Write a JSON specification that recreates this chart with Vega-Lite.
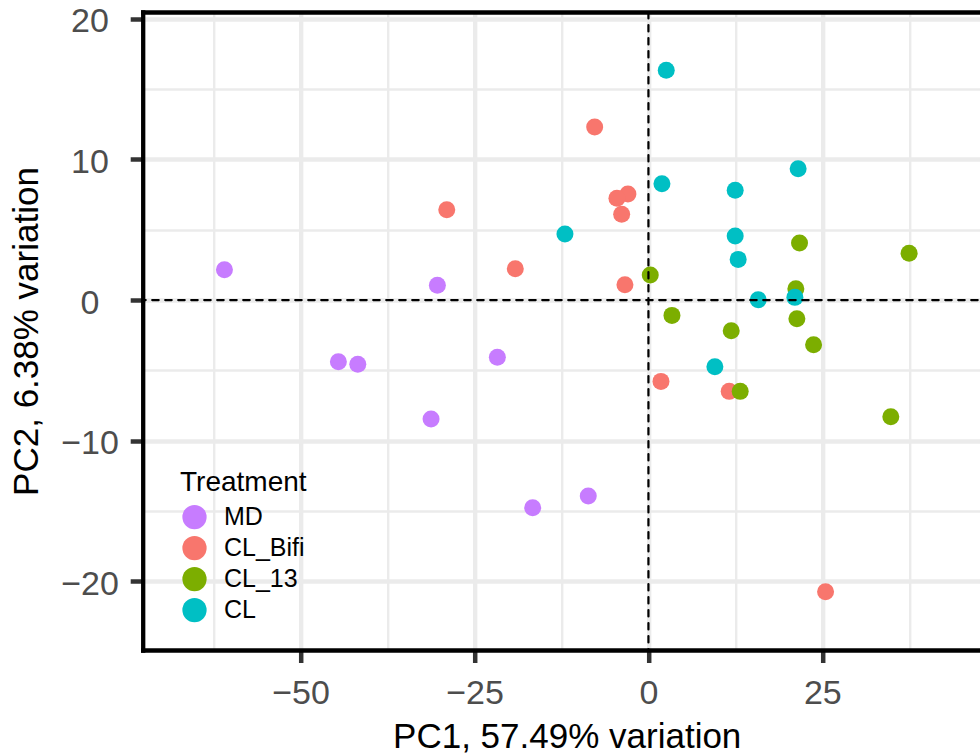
{
  "$schema": "https://vega.github.io/schema/vega-lite/v6.json",
  "autosize": {"type": "none"},
  "padding": {"left": 142.7, "top": 12, "right": -10.7, "bottom": 105},
  "width": 848,
  "height": 638,
  "config": {
    "font": "Liberation Sans",
    "view": {"stroke": null},
    "axis": {
      "labelFont": "Liberation Sans",
      "titleFont": "Liberation Sans",
      "labelColor": "#4D4D4D",
      "labelFontSize": 34,
      "titleFontSize": 35,
      "titleFontWeight": "normal",
      "titleColor": "#000000",
      "tickColor": "#333333",
      "tickSize": 12.5,
      "domainColor": "#000000",
      "domainWidth": 4.3,
      "domainCap": "square",
      "gridColor": "#EBEBEB",
      "labelFlush": false,
      "labelOverlap": false
    },
    "legend": {
      "labelFont": "Liberation Sans",
      "titleFont": "Liberation Sans"
    }
  },
  "resolve": {"axis": {"x": "independent", "y": "independent"}},
  "layer": [
    {
      "data": {
        "values": [
          {"PC1": -60.95, "PC2": 2.16, "Treatment": "MD"},
          {"PC1": -30.34, "PC2": 1.05, "Treatment": "MD"},
          {"PC1": -44.57, "PC2": -4.38, "Treatment": "MD"},
          {"PC1": -41.78, "PC2": -4.57, "Treatment": "MD"},
          {"PC1": -21.72, "PC2": -4.07, "Treatment": "MD"},
          {"PC1": -31.25, "PC2": -8.46, "Treatment": "MD"},
          {"PC1": -16.64, "PC2": -14.76, "Treatment": "MD"},
          {"PC1": -8.65, "PC2": -13.93, "Treatment": "MD"},
          {"PC1": -28.99, "PC2": 6.42, "Treatment": "CL_Bifi"},
          {"PC1": -19.14, "PC2": 2.22, "Treatment": "CL_Bifi"},
          {"PC1": -7.73, "PC2": 12.3, "Treatment": "CL_Bifi"},
          {"PC1": -2.95, "PC2": 7.53, "Treatment": "CL_Bifi"},
          {"PC1": -4.53, "PC2": 7.23, "Treatment": "CL_Bifi"},
          {"PC1": -3.85, "PC2": 6.09, "Treatment": "CL_Bifi"},
          {"PC1": -3.38, "PC2": 1.09, "Treatment": "CL_Bifi"},
          {"PC1": 1.8, "PC2": -5.78, "Treatment": "CL_Bifi"},
          {"PC1": 11.61, "PC2": -6.49, "Treatment": "CL_Bifi"},
          {"PC1": 25.46, "PC2": -20.73, "Treatment": "CL_Bifi"},
          {"PC1": 21.72, "PC2": 4.05, "Treatment": "CL_13"},
          {"PC1": 37.47, "PC2": 3.32, "Treatment": "CL_13"},
          {"PC1": 0.26, "PC2": 1.78, "Treatment": "CL_13"},
          {"PC1": 21.19, "PC2": 0.8, "Treatment": "CL_13"},
          {"PC1": 3.38, "PC2": -1.09, "Treatment": "CL_13"},
          {"PC1": 21.34, "PC2": -1.33, "Treatment": "CL_13"},
          {"PC1": 11.9, "PC2": -2.18, "Treatment": "CL_13"},
          {"PC1": 23.74, "PC2": -3.18, "Treatment": "CL_13"},
          {"PC1": 13.19, "PC2": -6.49, "Treatment": "CL_13"},
          {"PC1": 34.84, "PC2": -8.29, "Treatment": "CL_13"},
          {"PC1": 2.56, "PC2": 16.33, "Treatment": "CL"},
          {"PC1": 21.52, "PC2": 9.33, "Treatment": "CL"},
          {"PC1": 1.94, "PC2": 8.27, "Treatment": "CL"},
          {"PC1": 12.47, "PC2": 7.8, "Treatment": "CL"},
          {"PC1": -12.0, "PC2": 4.69, "Treatment": "CL"},
          {"PC1": 12.47, "PC2": 4.55, "Treatment": "CL"},
          {"PC1": 12.9, "PC2": 2.89, "Treatment": "CL"},
          {"PC1": 15.78, "PC2": 0.02, "Treatment": "CL"},
          {"PC1": 21.05, "PC2": 0.19, "Treatment": "CL"},
          {"PC1": 9.55, "PC2": -4.74, "Treatment": "CL"}
        ]
      },
      "mark": {"type": "point", "filled": true, "size": 289, "opacity": 1, "strokeWidth": 0},
      "encoding": {
        "x": {
          "field": "PC1",
          "type": "quantitative",
          "scale": {"domain": [-72.7, 49.2], "nice": false, "zero": false},
          "axis": {
            "title": "PC1, 57.49% variation",
            "values": [-62.5, -50, -37.5, -25, -12.5, 0, 12.5, 25, 37.5, 50],
            "grid": true,
            "gridWidth": {"condition": {"test": "datum.value % 25 === 0", "value": 4.3}, "value": 2.4},
            "tickWidth": {"condition": {"test": "datum.value % 25 === 0", "value": 4.5}, "value": 0},
            "labelExpr": "datum.value % 25 === 0 ? datum.label : ''",
            "labelPadding": 14.3,
            "titlePadding": 8.3,
            "domain": true,
            "zindex": 0
          }
        },
        "y": {
          "field": "PC2",
          "type": "quantitative",
          "scale": {"domain": [-24.87, 20.47], "nice": false, "zero": false},
          "axis": {
            "title": "PC2, 6.38% variation",
            "values": [-20, -15, -10, -5, 0, 5, 10, 15, 20],
            "grid": true,
            "gridWidth": {"condition": {"test": "datum.value % 10 === 0", "value": 4.3}, "value": 2.4},
            "tickWidth": {"condition": {"test": "datum.value % 10 === 0", "value": 4.5}, "value": 0},
            "labelExpr": "datum.value % 10 === 0 ? datum.label : ''",
            "labelAlign": "center",
            "labelBaseline": "middle",
            "labelPadding": 40.7,
            "labelOffset": 3,
            "titlePadding": 16.3,
            "domain": true,
            "zindex": 0
          }
        },
        "color": {
          "field": "Treatment",
          "type": "nominal",
          "scale": {
            "domain": ["MD", "CL_Bifi", "CL_13", "CL"],
            "range": ["#C77CFF", "#F8766D", "#7CAE00", "#00BFC4"]
          },
          "legend": {
            "orient": "none",
            "direction": "vertical",
            "legendX": 37.3,
            "legendY": 456.6,
            "padding": 0,
            "title": "Treatment",
            "titleFontSize": 28,
            "titleFontWeight": "normal",
            "titleColor": "#000000",
            "titlePadding": 8,
            "labelFontSize": 25,
            "labelColor": "#000000",
            "symbolType": "circle",
            "symbolSize": 590,
            "symbolStrokeWidth": 0,
            "symbolOffset": 2,
            "rowPadding": 5,
            "labelOffset": 17
          }
        }
      }
    },
    {
      "data": {"values": [{}]},
      "mark": {"type": "rule", "color": "#000000", "strokeWidth": 2.2, "strokeDash": [6.5, 6.5], "strokeCap": "round"},
      "encoding": {
        "x": {
          "datum": 0,
          "type": "quantitative",
          "scale": {"domain": [-72.7, 49.2], "nice": false, "zero": false},
          "axis": {
            "orient": "top",
            "title": null,
            "labels": false,
            "ticks": false,
            "grid": false,
            "domain": true,
            "zindex": 1
          }
        }
      }
    },
    {
      "data": {"values": [{}]},
      "mark": {"type": "rule", "color": "#000000", "strokeWidth": 2.2, "strokeDash": [6.5, 6.5], "strokeCap": "round"},
      "encoding": {
        "y": {
          "datum": 0,
          "type": "quantitative",
          "scale": {"domain": [-24.87, 20.47], "nice": false, "zero": false},
          "axis": null
        }
      }
    }
  ]
}
